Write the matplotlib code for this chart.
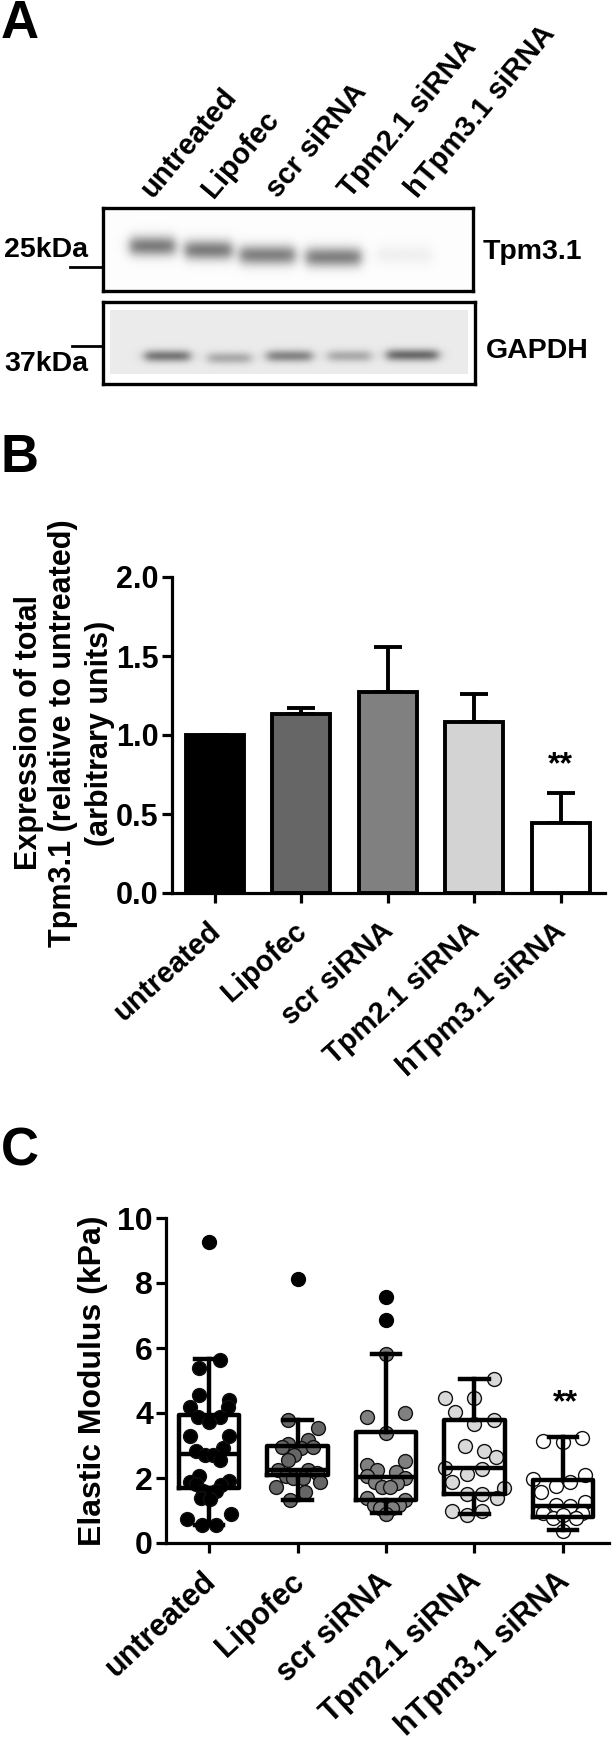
import numpy as np
import matplotlib
matplotlib.use('Agg')
import matplotlib.pyplot as plt
from matplotlib.transforms import ScaledTranslation

W, H = 613, 1739
plt.rcParams['font.family'] = ['Liberation Sans', 'DejaVu Sans']
plt.rcParams['font.weight'] = 'bold'
plt.rcParams['axes.labelweight'] = 'bold'

# DATA
groups = ['untreated', 'Lipofec', 'scr siRNA', 'Tpm2.1 siRNA', 'hTpm3.1 siRNA']

# panel A, blot bands: left px, right px, centre px, peak darkness
tpm_left = [130, 185, 240, 306, 377]
tpm_right = [175, 232, 295, 361, 432]
tpm_y = [246, 250, 255, 257, 255]
tpm_dark = [0.50, 0.50, 0.48, 0.48, 0.05]
gapdh_left = [145, 208, 267, 328, 387]
gapdh_right = [190, 251, 312, 371, 438]
gapdh_y = [356, 358, 356, 356, 355]
gapdh_dark = [0.45, 0.25, 0.40, 0.25, 0.50]

# panel B
bar_means = [1.0, 1.13, 1.27, 1.08, 0.44]
bar_errs = [0.0, 0.04, 0.29, 0.18, 0.19]
bar_colors = ['#000000', '#666666', '#808080', '#d3d3d3', '#ffffff']

# panel C
val_untreated = [5.62, 5.39, 4.56, 4.41, 4.2, 4.17, 3.87, 3.87, 3.72, 3.28, 3.28, 2.92, 2.84, 2.72, 2.72,
                 2.54, 2.07, 1.87, 1.9, 1.83, 1.8, 1.59, 1.59, 1.38, 1.35, 0.75, 0.9, 0.56, 0.56]
off_untreated = [.12, -.113, -.113, .226, -.22, .22, -.12, .12, 0, -.22, .226, .16, -.15, -.05, .05,
                 .12, -.113, -.22, .23, -.15, .14, -.07, .075, -.087, .015, -.25, .25, -.075, .083]
val_lipofec = [3.77, 3.54, 3.16, 3.06, 2.95, 2.92, 2.95, 2.72, 2.56, 2.26, 2.26, 2.15, 2.05, 2.0, 2.0, 1.87, 1.71, 1.56, 1.33]
off_lipofec = [-.113, .226, .113, -.105, -.17, .045, .17, -.04, -.113, -.22, .12, .215, -.125, -.05, .064, .25, -.245, .083, -.08]
val_scr = [5.82, 3.87, 4.0, 3.38, 2.51, 2.41, 2.26, 2.17, 2.05, 2.0, 1.87, 1.85, 1.71, 1.71, 1.38, 1.33, 1.18, 1.18, 1.08, 1.08, 0.9]
off_scr = [0, -.22, .22, 0, .22, -.22, -.1, .11, -.22, .215, -.125, .128, -.05, .045, -.22, .22, -.14, .147, -.07, .064, 0]
val_tpm2 = [5.06, 4.47, 4.47, 4.03, 3.77, 3.67, 2.97, 2.82, 2.64, 2.3, 2.28, 2.13, 1.88, 1.69, 1.52, 1.52, 1.38, 1.0, 1.0, 0.87]
off_tpm2 = [.22, -.33, 0, -.22, .22, 0, -.11, .11, .24, -.33, .083, -.083, -.25, .33, -.083, .083, .25, -.25, .083, -.083]
val_htpm3 = [3.15, 3.22, 3.1, 1.97, 2.1, 1.74, 1.88, 1.56, 1.26, 1.18, 1.13, 0.92, 0.92, 0.77, 0.87, 0.77, 0.36]
off_htpm3 = [-.226, .22, 0, -.336, .245, -.083, .083, -.25, .245, -.083, .083, -.226, .22, -.11, 0, .15, 0]
outlier_x = [0, 1, 2, 2]
outlier_y = [9.26, 8.12, 7.56, 6.85]
dot_colors = ['#000000', '#666666', '#808080', '#d9d9d9', '#ffffff']
box_q1 = [1.7, 2.08, 1.32, 1.5, 0.8]
box_med = [2.75, 2.25, 2.03, 2.3, 1.15]
box_q3 = [3.95, 3.0, 3.42, 3.8, 1.93]
whisk_lo = [0.55, 1.33, 0.92, 0.9, 0.4]
whisk_hi = [5.65, 3.77, 5.82, 5.06, 3.25]

fig = plt.figure(figsize=(W / 100, H / 100), dpi=100)


def px_axes(left, top, right, bottom):
    return fig.add_axes([left / W, 1 - bottom / H, (right - left) / W, (bottom - top) / H])


def px_text(x, y, s, **kw):
    kw.setdefault('ha', 'left')
    kw.setdefault('va', 'center')
    fig.text(x / W, 1 - y / H, s, **kw)


def blot(box, inner, lefts, rights, ys, darks, half_h, base):
    # grey picture of the bands, inside a heavy black frame
    x0, y0, x1, y1 = box
    yy, xx = np.mgrid[y0:y1, x0:x1] + 0.5
    img = np.ones_like(xx)
    ix0, iy0, ix1, iy1 = inner
    img[(xx > ix0) & (xx < ix1) & (yy > iy0) & (yy < iy1)] = base
    for l, r, yc, d in zip(lefts, rights, ys, darks):
        across = 0.5 * (np.tanh((xx - l) / 6) - np.tanh((xx - r) / 6))
        img -= d * across * np.exp(-((yy - yc) / half_h) ** 2)
    ax = px_axes(x0, y0, x1, y1)
    ax.imshow(img, cmap='gray', vmin=0, vmax=1, aspect='auto')
    ax.set_xticks([])
    ax.set_yticks([])
    for s in ax.spines.values():
        s.set_linewidth(2.4)


def style_axis(ax, yticks, ylabels, xlim, ylim, rot, size, ysize):
    ax.set_xlim(xlim)
    ax.set_ylim(ylim)
    ax.patch.set_alpha(0)
    ax.spines['top'].set_visible(False)
    ax.spines['right'].set_visible(False)
    ax.spines['left'].set_linewidth(2.3)
    ax.spines['bottom'].set_linewidth(2.3)
    ax.set_yticks(yticks)
    ax.set_yticklabels(ylabels, fontsize=ysize)
    ax.set_xticks(range(5))
    ax.set_xticklabels(groups, fontsize=size, rotation=rot, ha='right', va='top', rotation_mode='anchor')
    ax.tick_params(length=7, width=2.3, pad=2.5)
    ax.tick_params(axis='x', pad=10)
    # labels end a little left of their ticks
    nudge = ScaledTranslation(-8 / 100, 0, fig.dpi_scale_trans)
    for lab in ax.get_xticklabels():
        lab.set_transform(lab.get_transform() + nudge)


# PANEL A
px_text(1, 24, 'A', fontsize=38)
blot((103, 208, 473, 291), (103, 208, 473, 291), tpm_left, tpm_right, tpm_y, tpm_dark, 10, 0.99)
blot((103, 302, 475, 384), (110, 310, 468, 374), gapdh_left, gapdh_right, gapdh_y, gapdh_dark, 6, 0.92)
lane_x = [157, 218, 283, 355, 422]
for x, name in zip(lane_x, groups):
    px_text(x, 203, name, fontsize=21, rotation=50, rotation_mode='anchor', va='bottom')
narrow = ['Liberation Sans Narrow', 'Liberation Sans']
px_text(4, 250, '25kDa', fontsize=20.5, family=narrow)
px_text(4, 364, '37kDa', fontsize=20.5, family=narrow)
px_text(483, 252, 'Tpm3.1', fontsize=20.5, family=narrow)
px_text(486, 351, 'GAPDH', fontsize=20.5, family=narrow)
fig.add_artist(plt.Line2D([70 / W, 103 / W], [1 - 267 / H] * 2, color='k', lw=2))
fig.add_artist(plt.Line2D([72 / W, 103 / W], [1 - 346 / H] * 2, color='k', lw=2))

# PANEL B
px_text(1, 458, 'B', fontsize=38)
ax = px_axes(172, 577, 605, 893)
ax.bar(range(5), bar_means, width=0.67, color=bar_colors, edgecolor='k', linewidth=2.8, zorder=3)
ax.errorbar(range(5), bar_means, yerr=[[0] * 5, bar_errs], fmt='none', ecolor='k',
            elinewidth=2.8, capsize=10, capthick=2.8, zorder=2)
style_axis(ax, [0, 0.5, 1, 1.5, 2], ['0.0', '0.5', '1.0', '1.5', '2.0'], (-0.497, 4.51), (0, 2), 42, 21, 22)
ax.text(4, 0.81, '**', fontsize=23, ha='center', va='center')
px_text(29, 733, 'Expression of total', fontsize=22, rotation=90, ha='center')
px_text(63, 733, 'Tpm3.1 (relative to untreated)', fontsize=22, rotation=90, ha='center')
px_text(100, 733, '(arbitrary units)', fontsize=22, rotation=90, ha='center')

# PANEL C
px_text(1, 1151, 'C', fontsize=38)
ax = px_axes(166, 1218, 609, 1543)
all_vals = [val_untreated, val_lipofec, val_scr, val_tpm2, val_htpm3]
all_offs = [off_untreated, off_lipofec, off_scr, off_tpm2, off_htpm3]
for i in range(5):
    ax.scatter(np.array(all_offs[i]) + i, all_vals[i], s=100, c=dot_colors[i],
               edgecolors='#111111', linewidths=1.0, zorder=2, clip_on=False)
ax.scatter(outlier_x, outlier_y, s=100, c='k', zorder=2)
stats = []
for i in range(5):
    stats.append({'q1': box_q1[i], 'med': box_med[i], 'q3': box_q3[i],
                  'whislo': whisk_lo[i], 'whishi': whisk_hi[i], 'fliers': []})
line = {'color': 'k', 'linewidth': 3.2, 'solid_joinstyle': 'round'}
ax.bxp(stats, positions=range(5), widths=0.68, capwidths=0.32, showfliers=False,
       boxprops=line, medianprops=line, whiskerprops=line, capprops=line, zorder=3, manage_ticks=False)
style_axis(ax, [0, 2, 4, 6, 8, 10], ['0', '2', '4', '6', '8', '10'], (-0.486, 4.52), (0, 10), 43, 22, 23)
ax.text(4.03, 4.3, '**', fontsize=23, ha='center', va='center')
ax.set_ylabel('Elastic Modulus (kPa)', fontsize=23)
ax.yaxis.set_label_coords((108 - 166) / (609 - 166), 0.5)

fig.savefig('out.png', dpi=100)
